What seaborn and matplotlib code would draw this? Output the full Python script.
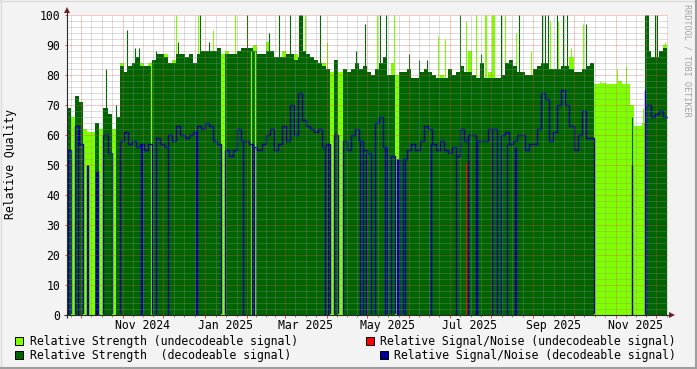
import numpy as np
import pandas as pd
import matplotlib
matplotlib.use("Agg")
import matplotlib.pyplot as plt
import matplotlib.dates as mdates
from matplotlib.patches import Rectangle, Polygon
import seaborn as sns

# ---------------- data (3-day consolidated buckets) ----------------
start_time = "2024-09-20 18:00"
bucket_days = 3

strength_decodeable = [
    69, 0, 73, 71, 0, 0, 0, 64, 0, 69,
    67, 0, 66, 83, 81, 83, 84, 86, 83, 83,
    83, 85, 87, 87, 86, 84, 84, 87, 87, 86,
    87, 84, 87, 88, 88, 88, 88, 89, 0, 87,
    87, 87, 88, 89, 89, 89, 88, 87, 87, 88,
    88, 86, 86, 86, 87, 87, 85, 86, 88, 87,
    86, 85, 84, 83, 82, 0, 85, 0, 82, 81,
    82, 84, 82, 83, 81, 80, 82, 84, 86, 80,
    80, 0, 81, 81, 82, 79, 79, 81, 82, 81,
    80, 79, 79, 79, 82, 80, 81, 83, 81, 81,
    80, 79, 84, 79, 79, 79, 79, 80, 84, 85,
    83, 81, 81, 80, 80, 82, 83, 84, 84, 82,
    82, 82, 83, 83, 82, 81, 81, 82, 83, 84,
    0, 0, 0, 0, 0, 0, 0, 0, 0, 0,
    0, 0, 0, 88, 86, 86, 88, 89,
]
strength_undecodeable = [
    68, 66, 0, 0, 62, 61, 61, 0, 62, 0,
    0, 62, 62, 84, 0, 0, 0, 0, 84, 0,
    84, 0, 0, 0, 87, 0, 85, 0, 0, 0,
    0, 0, 0, 0, 0, 0, 0, 0, 87, 88,
    0, 0, 0, 0, 0, 0, 90, 0, 0, 91,
    0, 0, 0, 88, 0, 0, 87, 0, 0, 0,
    0, 0, 0, 84, 0, 81, 0, 81, 0, 0,
    0, 0, 0, 0, 0, 0, 0, 0, 86, 0,
    84, 80, 0, 0, 0, 0, 0, 0, 0, 0,
    0, 0, 80, 0, 0, 0, 0, 0, 0, 88,
    0, 0, 0, 0, 81, 0, 0, 0, 0, 0,
    0, 0, 0, 0, 0, 0, 0, 0, 0, 0,
    0, 0, 0, 0, 86, 0, 0, 0, 0, 0,
    77, 77, 77.5, 77, 77, 77, 78, 77, 77, 70,
    63, 63, 64, 0, 0, 0, 0, 90,
]
snr_decodeable = [
    55, 0, 63, 57, 0, 0, 0, 0, 0, 60,
    54, 0, 0, 58, 61, 57, 58, 56, 57, 55,
    57, 0, 59, 57, 56, 60, 58, 63, 60, 59,
    60, 61, 63, 62, 64, 63, 58, 57, 0, 55,
    53, 55, 62, 58, 58, 57, 56, 55, 57, 60,
    62, 55, 57, 63, 58, 70, 60, 74, 65, 63,
    62, 61, 62, 56, 57, 0, 60, 0, 58, 55,
    60, 62, 58, 55, 54, 0, 64, 66, 56, 0,
    53, 0, 0, 52, 55, 57, 55, 58, 63, 62,
    57, 55, 58, 55, 54, 56, 53, 62, 58, 60,
    60, 58, 58, 58, 62, 62, 0, 60, 61, 57,
    58, 60, 60, 55, 57, 57, 62, 74, 72, 58,
    61, 70, 75, 70, 63, 55, 60, 68, 59, 59,
    0, 0, 0, 0, 0, 0, 0, 0, 0, 0,
    0, 0, 0, 70, 66, 67, 68, 66,
]

# short single-sample excursions (day offset from start, value)
dark_spike_day = [28.87, 36.28, 44.42, 50.34, 53.31, 65.89, 82.18, 98.47, 105.13,
                  133.26, 149.33, 157.18, 165.10, 172.13, 172.87, 173.61, 174.35,
                  187.53, 213.97, 220.85, 231.51, 235.95, 252.98, 260.38, 266.53,
                  290.96, 306.28, 321.54, 334.64, 351.67, 353.67, 356.11, 363.00,
                  367.22, 370.18, 384.47, 418.67, 428.09, 428.83, 429.57, 430.31,
                  435.33, 436.81]
dark_spike_value = [82, 70, 95, 89, 89, 88, 91, 100, 91,
                    100, 94, 100, 100, 100, 100, 100, 100,
                    100, 88, 97, 100, 100, 87, 85, 85,
                    100, 87, 100, 100, 100, 100, 100, 100,
                    100, 100, 97, 66, 100, 100, 100, 100,
                    100, 100]
light_spike_day = [80.33, 96.99, 108.46, 124.38, 176.43, 192.49, 229.51, 242.32,
                   274.45, 279.85, 295.18, 302.81, 309.25, 309.99, 315.02, 315.76,
                   316.50, 324.50, 332.64, 343.31, 357.59, 363.52, 373.14, 382.03,
                   394.61, 407.19, 413.86, 426.45, 442.73]
light_spike_value = [100, 100, 95, 100, 100, 91, 100, 100,
                     93, 92, 98, 100, 100, 100, 100, 100,
                     100, 100, 94, 88, 98, 98, 89, 97,
                     78, 82, 83, 69, 91]
light_gap_day = [62.19, 136.22, 139.55]
light_gap_value = [84, 88, 88]
snr_drop_day = [1.11, 8.51, 14.44, 15.18, 21.84, 22.58, 23.32, 54.42, 55.16,
                74.41, 95.14, 95.88, 130.30, 136.96, 138.44, 191.01, 193.23,
                216.92, 219.15, 221.37, 235.80, 244.32, 245.06, 245.80, 250.24,
                269.12, 269.86, 287.63, 296.88, 302.44, 303.18, 314.65, 325.76,
                332.05, 332.79, 418.67, 428.09]
snr_drop_value = [55, 62, 50, 50, 48, 48, 48, 57, 57,
                  56, 61, 61, 58, 57, 56, 56, 57,
                  58, 55, 54, 56, 52, 52, 52, 52,
                  57, 57, 53, 60, 58, 58, 62, 57,
                  56, 56, 50, 75]
snr_undecodeable_day = [295.77]
snr_undecodeable_value = [51]

x_label_months = ["Nov 2024", "Jan 2025", "Mar 2025", "May 2025",
                  "Jul 2025", "Sep 2025", "Nov 2025"]
y_tick_values = [0, 10, 20, 30, 40, 50, 60, 70, 80, 90, 100]
legend_labels = ["Relative Strength (undecodeable signal)",
                 "Relative Strength  (decodeable signal)",
                 "Relative Signal/Noise (undecodeable signal)",
                 "Relative Signal/Noise (decodeable signal)"]

# ---------------- style ----------------
LIGHT = "#80FF00"
DARK = "#006400"
BLUE = "#000099"
RED = "#FF0000"
BACK = "#F3F3F3"
GRID = (0.56, 0.56, 0.56, 0.6)
MGRID = (0.87, 0.31, 0.31, 0.6)
AXISC = "#2b2b2b"
ARROW = (0.5, 0.12, 0.12)
FONT = "DejaVu Sans Mono"
FS = 8.3

plt.rcParams["font.family"] = [FONT, "DejaVu Sans"]

W, H = 697, 369
PX_L, PX_R, PX_T, PX_B = 67, 668, 15, 315
PX_PER_DAY = 1.3507

fig = plt.figure(figsize=(W / 100, H / 100), dpi=100, facecolor=BACK)
ax = fig.add_axes([PX_L / W, 1 - PX_B / H, (PX_R - PX_L) / W, (PX_B - PX_T) / H])
ax.set_facecolor("white")
for s in ax.spines.values():
    s.set_visible(False)

t0 = pd.Timestamp(start_time)
x0 = mdates.date2num(t0)
n = len(strength_decodeable)
xe = x0 + bucket_days * np.arange(n + 1)


def ext(a):
    a = np.asarray(a, dtype=float)
    return np.append(a, a[-1])


def dx(days):
    return x0 + np.asarray(days, dtype=float)


xmin, xmax = x0, x0 + (PX_R - PX_L) / PX_PER_DAY

# areas / lines
ax.fill_between(xe, ext(strength_undecodeable), step="post", color=LIGHT, lw=0, zorder=1.0)
ax.vlines(dx(light_spike_day), 0, light_spike_value, color=LIGHT, lw=0.8, zorder=1.05)
ax.fill_between(xe, ext(strength_decodeable), step="post", color=DARK, lw=0, zorder=1.1)
ax.vlines(dx(dark_spike_day), 0, dark_spike_value, color=DARK, lw=0.8, zorder=1.15)
ax.vlines(dx(light_gap_day), 0, light_gap_value, color=LIGHT, lw=0.9, zorder=1.2)
ax.vlines(dx(snr_undecodeable_day), 0, snr_undecodeable_value, color=RED, lw=0.9, zorder=1.3)
n_lines_before = len(ax.lines)
sns.lineplot(x=xe, y=ext(snr_decodeable), ax=ax, color=BLUE, linewidth=1.0,
             drawstyle="steps-post", estimator=None, sort=False, legend=False, zorder=2)
ax.vlines(dx(snr_drop_day), 0, snr_drop_value, color=BLUE, lw=1.0, zorder=2)
# the zero-level part of the SNR line sits under the x axis
clip_rect = Rectangle((xmin, 0.4), xmax - xmin, 101, transform=ax.transData)
for ln in ax.lines[n_lines_before:]:
    ln.set_clip_path(clip_rect)

ax.set_xlim(xmin, xmax)
ax.set_ylim(0, 100)
ax.set_xlabel("")
ax.set_ylabel("")

# grid on top (rrdtool style)
dash = (0, (1, 1))
for y in range(2, 100, 2):
    if y % 10:
        ax.axhline(y, color=GRID, lw=0.72, ls=dash, zorder=3)
for y in range(10, 101, 10):
    ax.axhline(y, color=MGRID, lw=0.72, ls=dash, zorder=3.1)

months = pd.date_range("2024-09-01", "2026-01-01", freq="MS")
month_x = []
minor_x = []
for a, b in zip(months[:-1], months[1:]):
    ma, mb = mdates.date2num(a), mdates.date2num(b)
    month_x.append(ma)
    for k in (1, 2, 3):
        minor_x.append(ma + k * (mb - ma) / 4)
month_x = [m for m in month_x if xmin < m < xmax]
minor_x = [m for m in minor_x if xmin < m < xmax]
for m in minor_x:
    ax.axvline(m, color=GRID, lw=0.72, ls=dash, zorder=3)
for m in month_x:
    ax.axvline(m, color=MGRID, lw=0.72, ls=dash, zorder=3.1)
# small tick marks below / left of the axes
ax.vlines(minor_x, -0.7, 0, color=(0.56, 0.56, 0.56), lw=0.72, clip_on=False, zorder=3)
ax.vlines(month_x, -0.9, 0, color=(0.87, 0.31, 0.31), lw=0.72, clip_on=False, zorder=3)
ax.hlines(y_tick_values, xmin - 2.2 / PX_PER_DAY, xmin, color=(0.87, 0.31, 0.31),
          lw=0.72, clip_on=False, zorder=3)

# ticks / labels
label_x = [mdates.date2num(pd.to_datetime(m, format="%b %Y") + pd.Timedelta(days=15))
           for m in x_label_months]
ax.set_xticks(label_x)
ax.set_xticklabels(x_label_months, fontsize=FS, family=FONT)
ax.set_yticks(y_tick_values)
ax.set_yticklabels([str(v) for v in y_tick_values], fontsize=FS, family=FONT)
ax.tick_params(axis="x", length=0, pad=3.2, colors="black")
ax.tick_params(axis="y", length=0, pad=5.0, colors="black")

# ---------------- overlay in pixel coordinates ----------------
ov = fig.add_axes([0, 0, 1, 1], zorder=10)
ov.set_xlim(0, W)
ov.set_ylim(H, 0)
ov.axis("off")
ov.patch.set_alpha(0)

# axes lines and arrows
ov.plot([PX_L, PX_L], [PX_B + 3, 10], color=AXISC, lw=0.8, solid_capstyle="butt")
ov.plot([PX_L - 3, PX_R + 3], [PX_B, PX_B], color=AXISC, lw=0.8, solid_capstyle="butt")
ov.add_patch(Polygon([[PX_L - 3, 13], [PX_L + 3, 13], [PX_L, 7]], closed=True,
                     color=ARROW, lw=0))
ov.add_patch(Polygon([[PX_R + 1, PX_B - 3], [PX_R + 1, PX_B + 3], [PX_R + 7, PX_B]],
                     closed=True, color=ARROW, lw=0))

# y label and watermark
ov.text(11, 164, "Relative Quality", rotation=90, ha="center", va="center",
        fontsize=FS, family=FONT, color="black")
ov.text(687.5, 60, "RRDTOOL / TOBI OETIKER", rotation=270, ha="center", va="center",
        fontsize=6.1, family=FONT, color="#a4a4a4")

# legend
legend_items = [
    (15, 336.5, 30, 345.3, LIGHT, legend_labels[0]),
    (15, 350.5, 30, 359.0, DARK, legend_labels[1]),
    (365.5, 336.8, 380, 345.3, RED, legend_labels[2]),
    (379.5, 350.5, 394.3, 359.0, BLUE, legend_labels[3]),
]
for bx, by, tx, ty, col, lab in legend_items:
    ov.add_patch(Rectangle((bx, by), 8, 8.5, facecolor=col, edgecolor="black", lw=0.7))
    ov.text(tx, ty, lab, ha="left", va="baseline", fontsize=FS, family=FONT, color="black")

# frame shading
ov.plot([0, W], [0.5, 0.5], color="#DADADA", lw=1.0)
ov.plot([0.5, 0.5], [0, H], color="#DADADA", lw=1.0)
ov.plot([0, W], [H - 1, H - 1], color="#9E9E9E", lw=1.5)
ov.plot([W - 1, W - 1], [0, H], color="#9E9E9E", lw=1.5)

fig.savefig("out.png", dpi=100, facecolor=fig.get_facecolor())
